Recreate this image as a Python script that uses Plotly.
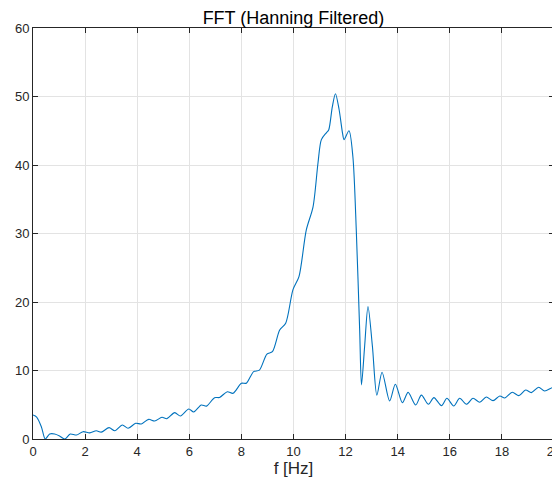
import plotly.graph_objects as go

freq = [0.0, 0.14, 0.32, 0.47, 0.64, 0.83, 1.02, 1.22, 1.43, 1.67, 1.92, 2.18, 2.43, 2.62,
        2.92, 3.14, 3.43, 3.65, 3.94, 4.16, 4.44, 4.67, 4.95, 5.14, 5.44, 5.66, 5.98, 6.17,
        6.46, 6.66, 6.97, 7.16, 7.46, 7.68, 8.0, 8.19, 8.47, 8.69, 8.98, 9.19, 9.47, 9.7,
        9.98, 10.21, 10.49, 10.75, 10.94, 11.07, 11.26, 11.35, 11.49, 11.61, 11.75, 11.88,
        11.94, 12.13, 12.28, 12.41, 12.54, 12.61, 12.73, 12.86, 13.03, 13.2, 13.4, 13.69,
        13.91, 14.18, 14.4, 14.69, 14.91, 15.18, 15.39, 15.68, 15.89, 16.15, 16.38, 16.64,
        16.89, 17.15, 17.4, 17.66, 17.92, 18.11, 18.4, 18.65, 18.91, 19.13, 19.41, 19.64,
        19.94, 20.0]
amp = [3.5, 3.2, 1.8, 0.0, 0.73, 0.73, 0.44, 0.0, 0.73, 0.58, 1.07, 0.9, 1.2, 1.0,
       1.66, 1.2, 2.05, 1.56, 2.29, 2.2, 2.87, 2.63, 3.17, 2.97, 3.85, 3.36, 4.38, 3.94,
       4.97, 4.8, 6.04, 6.06, 6.9, 6.67, 8.13, 8.15, 9.84, 10.05, 12.4, 12.75, 15.9, 16.9,
       21.8, 23.7, 30.5, 33.9, 40.3, 43.7, 44.7, 45.1, 48.5, 50.4, 48.1, 44.7,
       43.7, 45.0, 41.2, 30.5, 15.9, 7.9, 13.5, 19.35, 13.5, 6.4, 9.75, 5.55,
       8.0, 5.3, 6.8, 4.97, 6.4, 5.07, 6.04, 4.87, 5.94, 4.82, 5.94, 5.07,
       5.94, 5.36, 6.13, 5.6, 6.28, 5.99, 6.82, 6.33, 7.16, 6.77, 7.55, 7.0,
       7.5, 7.4]

x_ticks = [0, 2, 4, 6, 8, 10, 12, 14, 16, 18, 20]
y_ticks = [0, 10, 20, 30, 40, 50, 60]

FONT = "Liberation Sans, Arial, Helvetica"

fig = go.Figure()
fig.add_trace(go.Scatter(x=freq, y=amp, mode="lines",
                         line=dict(color="#0072BD", width=1.1, shape="spline", smoothing=0.8),
                         showlegend=False, hoverinfo="skip"))

axis_common = dict(showgrid=True, gridcolor="#e3e3e3", gridwidth=1,
                   showline=True, linecolor="#262626", linewidth=1,
                   mirror="ticks", ticks="inside", ticklen=5, tickcolor="#262626",
                   zeroline=False, automargin=False, ticklabeloverflow="allow",
                   tickfont=dict(family=FONT, size=13, color="#262626"))

fig.update_xaxes(range=[0, 20], tickvals=x_ticks, ticktext=[str(v) for v in x_ticks],
                 title=dict(text="f [Hz]", font=dict(family=FONT, size=17, color="#262626"),
                            standoff=2), **axis_common)
fig.update_yaxes(range=[0, 60], tickvals=y_ticks, ticktext=[str(v) for v in y_ticks], **axis_common)

fig.update_layout(
    width=552, height=478,
    margin=dict(l=25, r=6, t=20, b=47, autoexpand=False),
    paper_bgcolor="white", plot_bgcolor="white",
    title=dict(text="FFT (Hanning Filtered)", x=0.5, xref="paper", xanchor="center",
               y=1, yref="paper", yanchor="bottom", pad=dict(b=4),
               font=dict(family=FONT, size=18, color="black")),
)

fig.write_html("out.html")
